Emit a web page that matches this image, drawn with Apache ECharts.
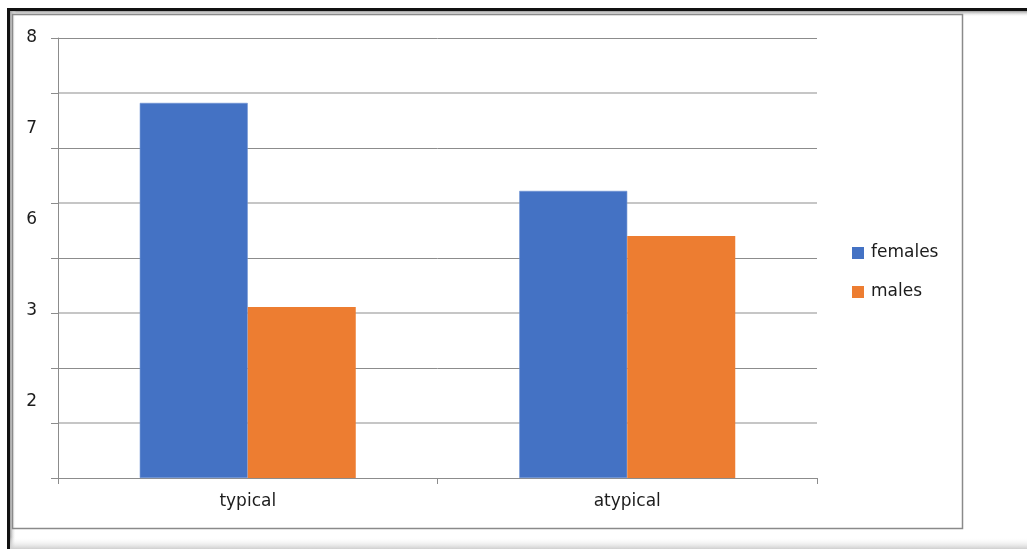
<!DOCTYPE html>
<html>
<head>
<meta charset="utf-8">
<script src="https://cdn.jsdelivr.net/npm/echarts@6/dist/echarts.min.js"></script>
<style>
  html, body { margin: 0; padding: 0; background: #fff; }
  #chart { width: 1027px; height: 549px; }
</style>
</head>
<body>
<div id="chart"></div>
<script>
// Categories and values per group
const categories = ['typical', 'atypical'];
const females = [6.82, 5.22];
const males = [3.11, 4.40];
// Labels printed down the left side, top to bottom
const yTickLabels = ['8', '7', '6', '3', '2'];

const FONT = 'DejaVu Sans';
const TEXT = '#1c1c1c';

const chart = echarts.init(document.getElementById('chart'), null, { renderer: 'canvas' });

const gridTop = 38, gridBottomPx = 478;
const labelStep = 91;
const labelMax = (gridBottomPx - gridTop) / labelStep;

chart.setOption({
  animation: false,
  backgroundColor: '#ffffff',
  textStyle: { fontFamily: FONT },
  graphic: [
    // outer frame lines
    { type: 'rect', z: -10, shape: { x: 7, y: 8, width: 1020, height: 3 }, style: { fill: '#111' } },
    { type: 'rect', z: -10, shape: { x: 7, y: 8, width: 3, height: 541 }, style: { fill: '#111' } },
    { type: 'rect', z: -10, shape: { x: 10, y: 11, width: 1017, height: 6 },
      style: { fill: new echarts.graphic.LinearGradient(0, 0, 0, 1, [
        { offset: 0, color: '#9a9a9a' }, { offset: 1, color: 'rgba(255,255,255,0)' }]) } },
    { type: 'rect', z: -10, shape: { x: 10, y: 11, width: 6, height: 538 },
      style: { fill: new echarts.graphic.LinearGradient(0, 0, 1, 0, [
        { offset: 0, color: '#9a9a9a' }, { offset: 1, color: 'rgba(255,255,255,0)' }]) } },
    { type: 'rect', z: -10, shape: { x: 10, y: 537, width: 1017, height: 12 },
      style: { fill: new echarts.graphic.LinearGradient(0, 0, 0, 1, [
        { offset: 0, color: 'rgba(255,255,255,0)' }, { offset: 1, color: '#cfcfcf' }]) } },
    // chart area border
    { type: 'rect', z: -5, shape: { x: 12.5, y: 14.5, width: 950, height: 514 },
      style: { fill: 'none', stroke: '#8a8a8a', lineWidth: 1.5 } }
  ],
  grid: { left: 58, right: 210, top: gridTop, bottom: 549 - gridBottomPx, containLabel: false },
  legend: {
    orient: 'vertical',
    left: 852,
    top: 243,
    padding: 0,
    icon: 'rect',
    itemWidth: 12,
    itemHeight: 12,
    itemGap: 19,
    itemStyle: { borderWidth: 0 },
    textStyle: { fontFamily: FONT, fontSize: 17, color: TEXT, lineHeight: 20, padding: [0, 0, 0, 2] },
    data: ['females', 'males']
  },
  xAxis: {
    type: 'category',
    data: categories,
    axisLine: { lineStyle: { color: '#8c8c8c', width: 1 } },
    axisTick: { show: true, length: 6, lineStyle: { color: '#8c8c8c' } },
    axisLabel: { fontFamily: FONT, fontSize: 17, color: TEXT, margin: 15 },
    splitLine: { show: false }
  },
  yAxis: [
    {
      type: 'value', min: 0, max: 8, interval: 1,
      axisLine: { show: true, lineStyle: { color: '#8c8c8c' } },
      axisTick: { show: true, length: 7, lineStyle: { color: '#8c8c8c' } },
      axisLabel: { show: false },
      splitLine: { show: true, lineStyle: { color: ['#8c8c8c', 'rgba(0,0,0,0)'], width: 1 } }
    },
    {
      type: 'value', min: 0, max: 8, interval: 1,
      axisLine: { show: false }, axisTick: { show: false }, axisLabel: { show: false },
      splitLine: { show: true, lineStyle: { color: ['rgba(0,0,0,0)', '#c6c6c6'], width: 2 } }
    },
    {
      type: 'value', position: 'left', inverse: true,
      min: 0, max: labelMax, interval: 1,
      axisLine: { show: false }, axisTick: { show: false }, splitLine: { show: false },
      axisLabel: {
        fontFamily: FONT, fontSize: 17, color: TEXT, margin: 21,
        showMaxLabel: false,
        formatter: v => {
          const i = Math.round(v);
          return Math.abs(v - i) < 1e-6 && yTickLabels[i] !== undefined ? yTickLabels[i] : '';
        }
      }
    }
  ],
  series: [
    {
      name: 'females', type: 'bar', yAxisIndex: 0, data: females,
      barWidth: 108, barGap: '0%',
      itemStyle: { color: '#4472C4', borderColor: '#6f93d4', borderWidth: 0.6 }
    },
    {
      name: 'males', type: 'bar', yAxisIndex: 0, data: males,
      barWidth: 108, barGap: '0%',
      itemStyle: { color: '#ED7D31' }
    }
  ]
});
</script>
</body>
</html>
